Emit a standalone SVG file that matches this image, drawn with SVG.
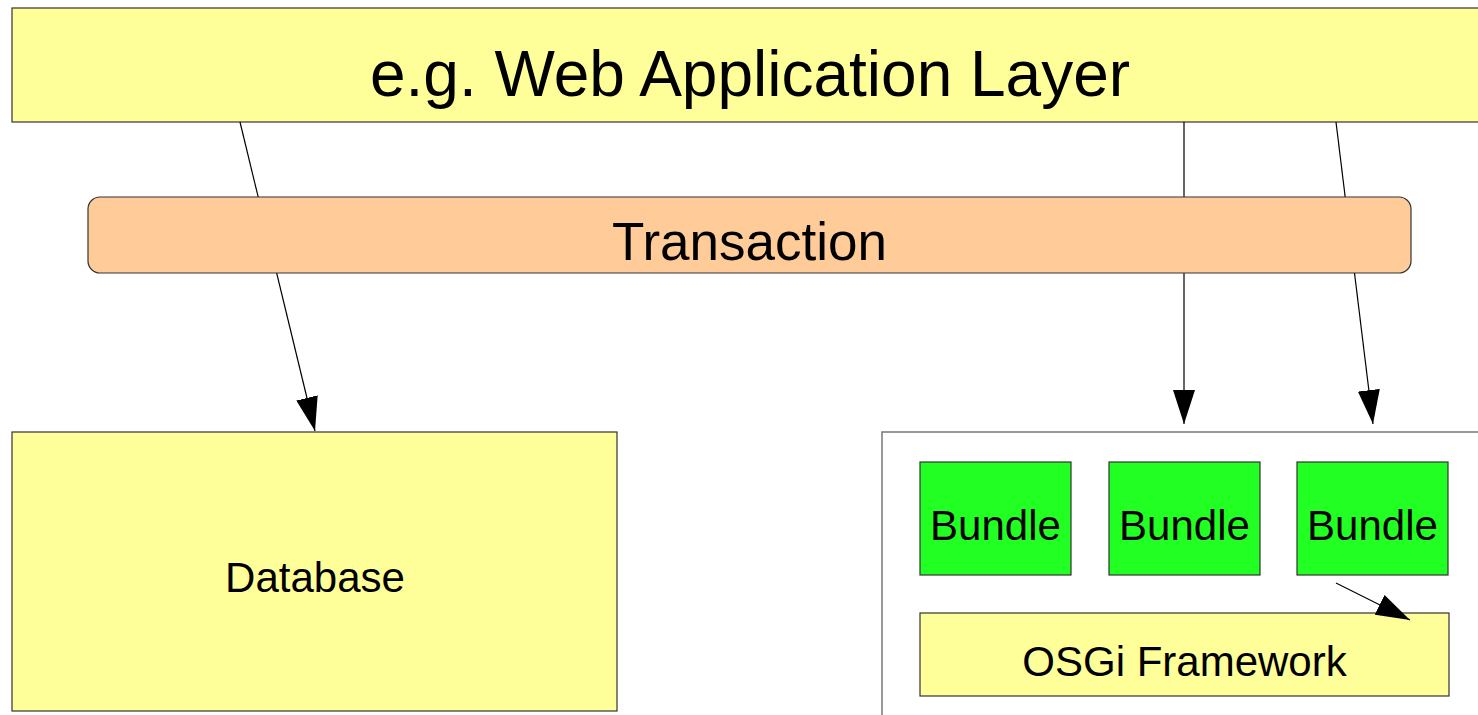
<svg xmlns="http://www.w3.org/2000/svg" width="1478" height="715" viewBox="0 0 1478 715">
  <style>
    .box { fill: #ffff99; stroke: #333333; stroke-width: 1.2; }
    .tx { fill: #ffcc99; stroke: #333333; stroke-width: 1.2; }
    .bundle { fill: #22ff22; stroke: #333333; stroke-width: 1.2; }
    .frame { fill: #ffffff; stroke: #777777; stroke-width: 1.5; }
    .label { font-family: "Liberation Sans", Arial, sans-serif; fill: #000000; text-anchor: middle; }
    .conn { stroke: #000000; stroke-width: 1.2; fill: none; marker-end: url(#arrow); }
  </style>
  <defs>
    <marker id="arrow" markerUnits="userSpaceOnUse" markerWidth="34" markerHeight="22" refX="34" refY="11" orient="auto" viewBox="0 0 34 22">
      <path d="M0,0 L34,11 L0,22 Z" fill="#000000"/>
    </marker>
  </defs>

  <g id="web-layer">
    <rect class="box" x="12" y="8" width="1480" height="114"/>
    <text class="label" x="750" y="96" font-size="64">e.g. Web Application Layer</text>
  </g>

  <g id="database">
    <rect class="box" x="12" y="432" width="605" height="279"/>
    <text class="label" x="315" y="592" font-size="42">Database</text>
  </g>

  <g id="osgi-container">
    <rect class="frame" x="882" y="432" width="620" height="300"/>
  </g>

  <g id="bundle-1">
    <rect class="bundle" x="920" y="462" width="151" height="113"/>
    <text class="label" x="995.5" y="540" font-size="42">Bundle</text>
  </g>
  <g id="bundle-2">
    <rect class="bundle" x="1109" y="462" width="151" height="113"/>
    <text class="label" x="1184.5" y="540" font-size="42">Bundle</text>
  </g>
  <g id="bundle-3">
    <rect class="bundle" x="1297" y="462" width="151" height="113"/>
    <text class="label" x="1372.5" y="540" font-size="42">Bundle</text>
  </g>

  <g id="osgi-framework">
    <rect class="box" x="920" y="613" width="529" height="83"/>
    <text class="label" x="1184.5" y="676" font-size="42">OSGi Framework</text>
  </g>

  <g id="connectors">
    <line class="conn" x1="240" y1="122" x2="315" y2="431"/>
    <line class="conn" x1="1184" y1="122" x2="1184" y2="424"/>
    <line class="conn" x1="1336" y1="122" x2="1373" y2="424"/>
    <line class="conn" x1="1336" y1="583" x2="1410" y2="620"/>
  </g>

  <g id="transaction">
    <rect class="tx" x="88" y="197" width="1323" height="76" rx="12" ry="12"/>
    <text class="label" x="749.5" y="260" font-size="53">Transaction</text>
  </g>
</svg>
